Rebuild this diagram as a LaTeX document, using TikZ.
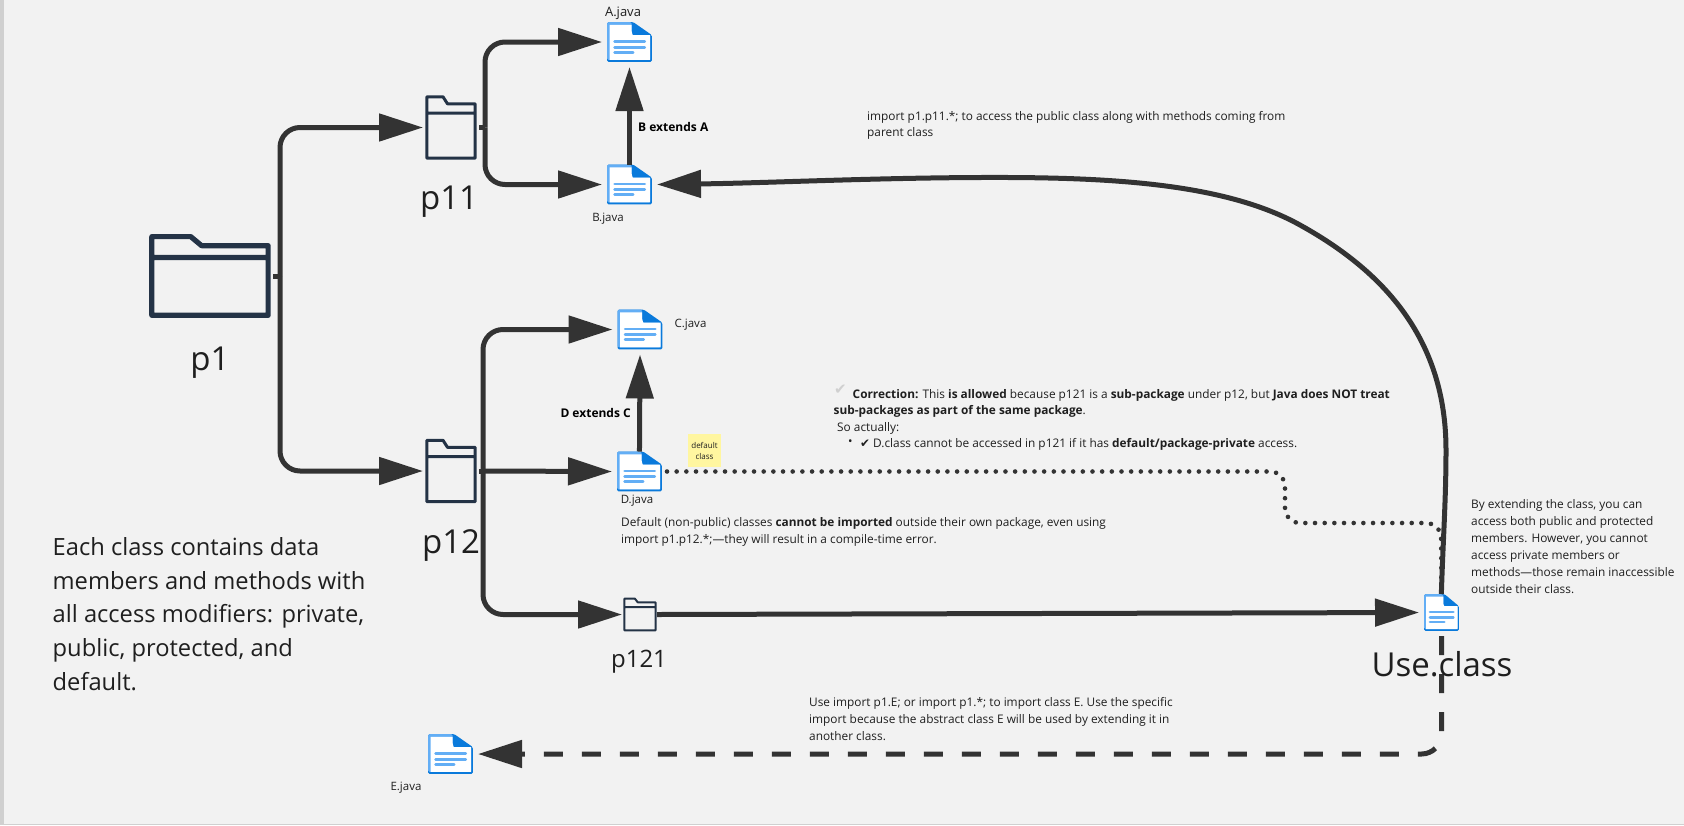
\documentclass[tikz,border=0pt]{standalone}
\usepackage{fontspec}
\setmainfont{Open Sans}
\newfontfamily\symfont{DejaVu Sans}
\usetikzlibrary{arrows.meta}
\definecolor{canvas}{HTML}{F2F2F2}
\definecolor{edgegray}{HTML}{D0D0D0}
\definecolor{linegray}{HTML}{333333}
\definecolor{folderblue}{HTML}{243346}
\definecolor{docdark}{HTML}{0A7ADB}
\definecolor{doclight}{HTML}{63AEF5}
\definecolor{sticky}{HTML}{FFF6A0}
\definecolor{textgray}{HTML}{1F1F1F}
% icons, coordinates in percent of the node
\newcommand{\docglyph}[3]{
  \begin{scope}[shift={(#1.center)},xshift=-#2*0.5pt,yshift=#3*0.5pt,x=#2*0.01pt,y=-#3*0.01pt]
    \fill[docdark,rounded corners=1.5pt] (0,0) -- (58,0) -- (100,33) -- (100,100) -- (0,100) -- cycle;
    \fill[doclight,rounded corners=1.5pt] (0,0) -- (55,0) -- (55,33) -- (96,33) -- (96,95) -- (0,95) -- cycle;
    \fill[white] (6,7) -- (55,7) -- (55,24) -- (57,33) -- (96,33) -- (96,95) -- (6,95) -- cycle;
    \draw[doclight,line width=#3*0.07pt,line cap=round] (17,49) -- (84,49) (17,63) -- (84,63) (17,76) -- (58,76);
  \end{scope}
}
\newcommand{\folderglyph}[4]{
  \begin{scope}[shift={(#1.center)},xshift=-#2*0.5pt,yshift=#3*0.5pt,x=#2*0.01pt,y=-#3*0.01pt]
    \draw[folderblue,line width=#4pt,line join=round] (1.5,2) -- (34,2) -- (43,13) -- (98.5,13) -- (98.5,98) -- (1.5,98) -- cycle
      (1.5,27.5) -- (98.5,27.5);
  \end{scope}
}
\begin{document}
\begin{tikzpicture}[x=1pt,y=-1pt]
% define box types
\tikzstyle{doc}=[minimum width=45pt, minimum height=40pt, inner sep=0pt, outer sep=5pt]
\tikzstyle{docsmall}=[minimum width=35pt, minimum height=37pt, inner sep=0pt, outer sep=5pt]
\tikzstyle{folderbig}=[minimum width=120pt, minimum height=82pt, inner sep=0pt, outer sep=3pt]
\tikzstyle{folder}=[minimum width=50pt, minimum height=64pt, inner sep=0pt, outer sep=3pt]
\tikzstyle{foldersmall}=[minimum width=32pt, minimum height=33pt, inner sep=0pt, outer sep=2pt]
\tikzstyle{note}=[anchor=north west, inner sep=0pt, align=left, text=textgray,
    font=\fontsize{11.85}{17}\selectfont]
\tikzstyle{file}=[inner sep=0pt, text=textgray, font=\fontsize{11.5}{14}\selectfont]
\tikzstyle{big}=[inner sep=0pt, text=textgray, font=\fontsize{33}{38}\selectfont]
\tikzstyle{rel}=[inner sep=0pt, text=black, font=\fontsize{12}{14}\selectfont\bfseries]
\tikzstyle{stub}=[linegray, line width=5pt]
\tikzstyle{a}=[linegray, line width=5pt, -{Triangle[length=44pt,width=27pt]}, rounded corners=20pt]
\tikzstyle{dotline}=[linegray, line width=4.6pt, line cap=round, dash pattern=on 0pt off 9.67pt, rounded corners=15pt]
\tikzstyle{dashline}=[a, dash pattern=on 19pt off 19pt]
\useasboundingbox (0,0) rectangle (1684,825);
% page
\fill[canvas] (0,0) rectangle (1684,825);
\fill[edgegray] (0,0) rectangle (4,825);
\fill[edgegray] (0,823.5) rectangle (1684,825);
% folders
\node[folderbig] (p1) at (210,276) {};
\node[folder] (p11) at (451,127.5) {};
\node[folder] (p12) at (451,471) {};
\node[foldersmall] (p121) at (640,614.5) {};
\folderglyph{p1}{120}{82}{5.2}
\folderglyph{p11}{50}{64}{3}
\folderglyph{p12}{50}{64}{3}
\folderglyph{p121}{32}{33}{2}
% files
\node[doc] (A) at (629.5,42) {};
\node[doc] (B) at (629.5,184.5) {};
\node[doc] (C) at (640,329.5) {};
\node[doc] (D) at (639.5,471.5) {};
\node[doc] (E) at (450.5,754) {};
\node[docsmall] (use) at (1441.5,612.5) {};
\docglyph{A}{45}{40}
\docglyph{B}{45}{40}
\docglyph{C}{45}{40}
\docglyph{D}{45}{40}
\docglyph{E}{45}{40}
\docglyph{use}{35}{37}
% tree
\draw[stub] (p1.east) -- ++(7,0) coordinate (j1);
\draw[stub] (p11.east) -- ++(6,0) coordinate (j11);
\draw[stub] (p12.east) -- ++(4,0) coordinate (j12);
\draw[a] (j1) |- (p11.west);
\draw[a] (j1) |- (p12.west);
\draw[a] (j11) |- (A.west);
\draw[a] (j11) |- (B.west);
\draw[a] (j12) |- (C.west);
\draw[a] (j12) -- (D.west);
\draw[a] (j12) |- (p121.west);
\draw[a,shorten <=-5pt] (B.north) -- (A.south);
\draw[a,shorten <=-5pt] (D.north) -- (C.south);
\draw[a,shorten <=-1pt] (p121.east) -- (use.west);
% access from the using class
\draw[dotline] (D.east) -- (1285,471.5) -- (1285,523) -- (1441,523) -- (use.north);
\draw[a,sharp corners,shorten <=-5pt] (use.north) .. controls (1443,540) and (1446,500) .. (1446,450)
    .. controls (1446,340) and (1385,272) .. (1300,225)
    .. controls (1228,185) and (1120,178) .. (1009,177.5)
    .. controls (890,177) and (770,183) .. (B.east);
\draw[dashline] (use.south) |- (E.east);
% file names
\node[file] (nameA) at (623,13) {\fontsize{13}{15}\selectfont A.java};
\node[file] (nameB) at (608,219) {B.java};
\node[file] (nameC) at (690.5,325) {C.java};
\node[file] (nameD) at (637,501) {D.java};
\node[file] (nameE) at (406,788) {E.java};
% package names
\node[big] (nameP1) at (210,363) {p1};
\node[big] (nameP11) at (449,202) {p11};
\node[big] (nameP12) at (451,546) {p12};
\node[big,font=\fontsize{24}{28}\selectfont] (nameP121) at (639,662) {p121};
\node[big] (nameUse) at (1442,664) {Use.class};
% relations
\node[rel,anchor=west] (extB) at (638,127) {B extends A};
\node[rel,anchor=east] (extD) at (631,413) {D extends C};
\node[fill=sticky, minimum width=33pt, minimum height=33pt, inner sep=0pt, align=center,
    text=textgray, font=\fontsize{8}{11}\selectfont] (tag) at (704.5,450.5) {default\\class};
% notes
\node[note,font=\fontsize{11.85}{16}\selectfont] (noteB) at (867,111.5) {import p1.p11.*; to access the public class along with methods coming from\\parent class};
\node[note,font=\fontsize{15}{16}\selectfont] (noteCheck) at (834,385) {\symfont\textcolor{edgegray}{\char"2714}};
\node[note,font=\fontsize{11.85}{16}\selectfont] (noteFix) at (833.5,389) {\hspace*{19pt}\textbf{Correction:} This \textbf{is allowed} because p121 is a \textbf{sub-package} under p12, but \textbf{Java does NOT treat}\\\textbf{sub-packages as part of the same package}.};
\node[note] (noteSo) at (837,422) {So actually:};
\node[note] (noteBullet) at (848,439.5) {\textbullet};
\node[note] (noteCheck2) at (860,438.5) {{\symfont\char"2714}\ D.class cannot be accessed in p121 if it has \textbf{default/package-private} access.};
\node[note] (noteD) at (621,517.5) {Default (non-public) classes \textbf{cannot be imported} outside their own package, even using\\import p1.p12.*;---they will result in a compile-time error.};
\node[note] (noteUse) at (1471,499.5) {By extending the class, you can\\access both public and protected\\members. However, you cannot\\access private members or\\methods---those remain inaccessible\\outside their class.};
\node[note] (noteE) at (809,697) {Use import p1.E; or import p1.*; to import class E. Use the specific\\import because the abstract class E will be used by extending it in\\another class.};
\node[note,font=\fontsize{23.7}{33.8}\selectfont] (noteAll) at (52.5,537) {Each class contains data\\members and methods with\\all access modifiers: private,\\public, protected, and\\default.};
\end{tikzpicture}
\end{document}
